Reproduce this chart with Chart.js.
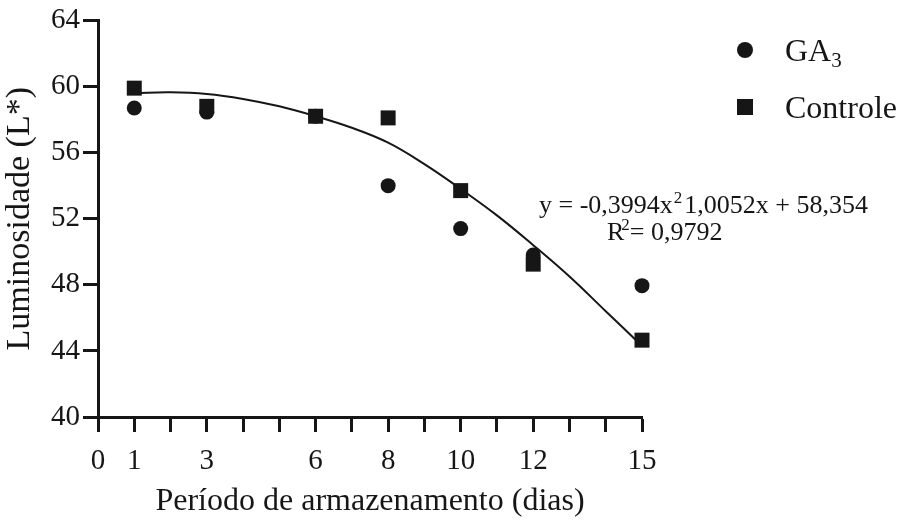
<!DOCTYPE html>
<html>
<head>
<meta charset="utf-8">
<script src="https://cdn.jsdelivr.net/npm/chart.js@4"></script>
<style>
  html, body { margin: 0; padding: 0; background: #ffffff; }
  #wrap { width: 902px; height: 525px; position: relative; }
</style>
</head>
<body>
<div id="wrap"><canvas id="c" width="902" height="525"></canvas></div>
<script>
// ---- data ----
const days = [1, 3, 6, 8, 10, 12, 15];
const ga3 = [58.7, 58.45, 58.2, 54.0, 51.4, 49.8, 47.95];
const controle = [59.9, 58.8, 58.2, 58.1, 53.7, 49.25, 44.65];
const trendX = [1, 2, 3, 4, 5, 6, 7, 8, 9, 10, 11, 12, 13, 14, 15];
const trendY = [59.6, 59.65, 59.55, 59.25, 58.8, 58.2, 57.5, 56.6, 55.3, 53.8, 52.2, 50.4, 48.5, 46.4, 44.3];
const xTickLabels = [0, 1, 3, 6, 8, 10, 12, 15];
const yTickLabels = [40, 44, 48, 52, 56, 60, 64];
const seriesNames = ['GA', 'Controle'];
const equationText = ['y = -0,3994x', '2', '1,0052x + 58,354'];
const r2Text = ['R', '2', '= 0,9792'];

const INK = '#161616';
const SERIF = '"Liberation Serif", "Times New Roman", serif';

const pts = (xs, ys) => xs.map((x, i) => ({ x: x, y: ys[i] }));

const annotations = {
  id: 'annotations',
  afterDraw(chart) {
    const ctx = chart.ctx;
    ctx.save();
    ctx.fillStyle = INK;
    ctx.textBaseline = 'alphabetic';
    ctx.textAlign = 'left';
    // legend
    ctx.beginPath();
    ctx.arc(745, 50, 8, 0, Math.PI * 2);
    ctx.fill();
    ctx.fillRect(737, 99, 16, 16);
    ctx.font = '32px ' + SERIF;
    ctx.fillText(seriesNames[0], 785, 61);
    const gw = ctx.measureText(seriesNames[0]).width;
    ctx.font = '21px ' + SERIF;
    ctx.fillText('3', 785 + gw, 67);
    ctx.font = '32px ' + SERIF;
    ctx.fillText(seriesNames[1], 785, 118);
    // equation
    let x = 539;
    ctx.font = '26px ' + SERIF;
    ctx.fillText(equationText[0], x, 213);
    x += ctx.measureText(equationText[0]).width + 1;
    ctx.font = '17px ' + SERIF;
    ctx.fillText(equationText[1], x, 203);
    x += ctx.measureText(equationText[1]).width + 2;
    ctx.font = '26px ' + SERIF;
    ctx.fillText(equationText[2], x, 213);
    // R2
    x = 607;
    ctx.fillText(r2Text[0], x, 240);
    x += ctx.measureText(r2Text[0]).width - 3;
    ctx.font = '17px ' + SERIF;
    ctx.fillText(r2Text[1], x, 230);
    x += ctx.measureText(r2Text[1]).width;
    ctx.font = '26px ' + SERIF;
    ctx.fillText(r2Text[2], x, 240);
    ctx.restore();
  }
};

new Chart(document.getElementById('c'), {
  type: 'scatter',
  data: {
    datasets: [
      {
        label: 'Tendência',
        data: pts(trendX, trendY),
        showLine: true,
        borderColor: INK,
        borderWidth: 2,
        pointRadius: 0,
        tension: 0.4,
        clip: false,
        order: 3
      },
      {
        label: 'GA3',
        data: pts(days, ga3),
        pointStyle: 'circle',
        pointRadius: 7.5,
        pointBackgroundColor: INK,
        pointBorderColor: INK,
        pointBorderWidth: 0,
        clip: false,
        order: 2
      },
      {
        label: 'Controle',
        data: pts(days, controle),
        pointStyle: 'rect',
        pointRadius: 10.6,
        pointBackgroundColor: INK,
        pointBorderColor: INK,
        pointBorderWidth: 0,
        clip: false,
        order: 1
      }
    ]
  },
  options: {
    responsive: false,
    animation: false,
    devicePixelRatio: 1,
    layout: { padding: { top: 20, right: 260, bottom: 0, left: 0 } },
    plugins: { legend: { display: false }, tooltip: { enabled: false } },
    scales: {
      x: {
        type: 'linear',
        min: 0,
        max: 15,
        afterFit(scale) { scale.height = 108; },
        afterBuildTicks(scale) {
          scale.ticks = [0].concat(trendX).map(v => ({ value: v }));
        },
        ticks: {
          stepSize: 1,
          padding: 12,
          color: INK,
          font: { family: SERIF, size: 29 },
          maxRotation: 0,
          autoSkip: false,
          callback: v => (xTickLabels.includes(v) ? String(v) : '')
        },
        grid: {
          drawOnChartArea: false,
          drawTicks: true,
          tickLength: 15,
          tickWidth: 3,
          tickColor: INK
        },
        border: { display: true, width: 3, color: INK },
        title: {
          display: true,
          text: 'Período de armazenamento (dias)',
          color: INK,
          font: { family: SERIF, size: 32, lineHeight: 1.2 },
          padding: { top: 0, bottom: 4 }
        }
      },
      y: {
        min: 40,
        max: 64,
        afterFit(scale) { scale.width = 98; },
        afterBuildTicks(scale) {
          scale.ticks = yTickLabels.map(v => ({ value: v }));
        },
        ticks: {
          stepSize: 4,
          padding: 3,
          color: INK,
          font: { family: SERIF, size: 29 }
        },
        grid: {
          drawOnChartArea: false,
          drawTicks: true,
          tickLength: 15,
          tickWidth: 3,
          tickColor: INK
        },
        border: { display: true, width: 3, color: INK },
        title: {
          display: true,
          text: 'Luminosidade (L*)',
          color: INK,
          font: { family: SERIF, size: 34, lineHeight: 1.2 },
          padding: { top: 0, bottom: 0 }
        }
      }
    }
  },
  plugins: [annotations]
});
</script>
</body>
</html>
